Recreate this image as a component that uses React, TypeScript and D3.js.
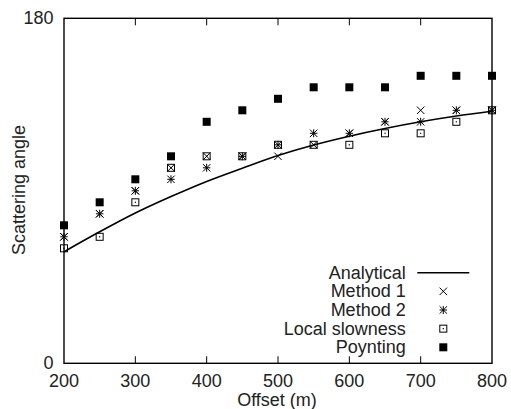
import React from "react";
import * as d3 from "d3";

const offsets = [200, 250, 300, 350, 400, 450, 500, 550, 600, 650, 700, 750, 800];
const analytical = [58.2, 68.6, 78.4, 87.0, 94.9, 101.8, 108.4, 113.9, 118.5, 122.5, 126.0, 129.0, 131.5];
const method1 = [66, 78, 90, 102, 108, 108, 108, 114, 120, 126, 132, 132, 132];
const method2 = [66, 78, 90, 96, 102, 108, 114, 120, 120, 126, 126, 132, 132];
const localSlowness = [60, 66, 84, 102, 108, 108, 114, 114, 114, 120, 120, 126, 132];
const poynting = [72, 84, 96, 108, 126, 132, 138, 144, 144, 144, 150, 150, 150];
const xTicks = [200, 300, 400, 500, 600, 700, 800];
const yTicks = [0, 180];
const legendLabels = ["Analytical", "Method 1", "Method 2", "Local slowness", "Poynting"];

const W = 511, H = 409;
const M = { left: 64, right: 492, top: 18.3, bottom: 363.3 };
const FONT = "'Liberation Sans', Arial, Helvetica, sans-serif";
const FS = 18;

type Kind = "line" | "cross" | "star" | "box" | "fill";

function Marker({ kind, x, y }: { kind: Kind; x: number; y: number }) {
  const s = 3.7;
  if (kind === "cross")
    return (
      <path d={`M${x - s},${y - s}L${x + s},${y + s}M${x - s},${y + s}L${x + s},${y - s}`} stroke="#000" strokeWidth={1} fill="none" />
    );
  if (kind === "star")
    return (
      <path
        d={`M${x - s},${y - s}L${x + s},${y + s}M${x - s},${y + s}L${x + s},${y - s}M${x},${y - s - 0.3}L${x},${y + s + 0.3}M${x - s},${y}L${x + s},${y}`}
        stroke="#000" strokeWidth={1} fill="none"
      />
    );
  if (kind === "box")
    return (
      <g>
        <rect x={x - 3.5} y={y - 3.5} width={7} height={7} fill="none" stroke="#000" strokeWidth={1} />
        <rect x={x - 0.6} y={y - 0.6} width={1.2} height={1.2} fill="#000" />
      </g>
    );
  if (kind === "fill") return <rect x={x - 4} y={y - 4} width={8} height={8} fill="#000" />;
  return null;
}

export default function App() {
  const x = d3.scaleLinear().domain([200, 800]).range([M.left, M.right]);
  const y = d3.scaleLinear().domain([0, 180]).range([M.bottom, M.top]);
  const line = d3
    .line<number>()
    .x((_, i) => x(offsets[i]))
    .y((d) => y(d))
    .curve(d3.curveMonotoneX);

  const series: { kind: Kind; data: number[] }[] = [
    { kind: "box", data: localSlowness },
    { kind: "cross", data: method1 },
    { kind: "star", data: method2 },
    { kind: "fill", data: poynting },
  ];
  const kinds: Kind[] = ["line", "cross", "star", "box", "fill"];

  const legRight = 405.7;
  const legY0 = 272.7;
  const legStep = 18.65;

  return (
    <svg width={W} height={H} style={{ position: "absolute", left: 0, top: 0, background: "#fff" }} fontFamily={FONT}>
      <rect width={W} height={H} fill="#fff" />
      {/* ticks */}
      {xTicks.slice(1, -1).map((t) => (
        <g key={t}>
          <line x1={x(t)} x2={x(t)} y1={M.bottom} y2={M.bottom - 7} stroke="#000" strokeWidth={1} />
          <line x1={x(t)} x2={x(t)} y1={M.top} y2={M.top + 7} stroke="#000" strokeWidth={1} />
        </g>
      ))}
      {xTicks.map((t) => (
        <text key={t} x={x(t)} y={386.7} textAnchor="middle" fontSize={FS} fill="#222">
          {t}
        </text>
      ))}
      {yTicks.map((t) => (
        <text key={t} x={M.left - 10.5} y={y(t) + 6} textAnchor="end" fontSize={FS} fill="#222">
          {t}
        </text>
      ))}
      <text x={277} y={405.5} textAnchor="middle" fontSize={FS} fill="#222">
        Offset (m)
      </text>
      <text transform={`translate(24.5,190) rotate(-90)`} textAnchor="middle" fontSize={FS} fill="#222">
        Scattering angle
      </text>
      {/* curve */}
      <path d={line(analytical) || ""} fill="none" stroke="#000" strokeWidth={1.6} />
      {series.map((s) =>
        s.data.map((v, i) => <Marker key={s.kind + i} kind={s.kind} x={x(offsets[i])} y={y(v)} />)
      )}
      {/* frame */}
      <rect x={M.left} y={M.top} width={M.right - M.left} height={M.bottom - M.top} fill="none" stroke="#000" strokeWidth={1.4} />
      {/* legend */}
      {legendLabels.map((lab, i) => {
        const cy = legY0 + i * legStep;
        return (
          <g key={lab}>
            <text x={legRight} y={cy + 6} textAnchor="end" fontSize={FS} fill="#222">
              {lab}
            </text>
            {kinds[i] === "line" ? (
              <line x1={417.3} x2={469.3} y1={cy} y2={cy} stroke="#000" strokeWidth={1.6} />
            ) : (
              <Marker kind={kinds[i]} x={443.3} y={cy} />
            )}
          </g>
        );
      })}
    </svg>
  );
}
